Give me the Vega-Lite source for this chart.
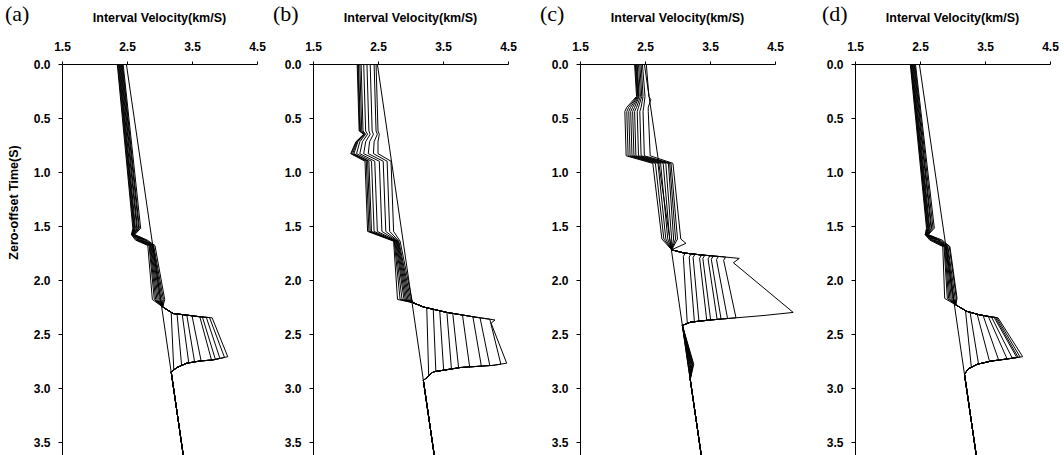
{
"$schema": "https://vega.github.io/schema/vega-lite/v6.json",
"background": "white",
"padding": {"left": 5, "top": 3, "right": 0, "bottom": 0},
"bounds": "flush",
"spacing": 56,
"config": {
  "view": {"stroke": null},
  "axis": {"domainColor": "#000", "tickColor": "#000", "labelColor": "#000", "titleColor": "#000", "grid": false, "labelFont": "Liberation Sans", "titleFont": "Liberation Sans", "labelFontSize": 12, "labelFontWeight": "bold", "titleFontSize": 12.5, "titleFontWeight": "bold", "domainWidth": 1, "tickWidth": 1, "labelFlush": false},
  "title": {"font": "Liberation Serif", "fontSize": 22, "fontWeight": "normal", "color": "#000", "anchor": "start", "frame": "group", "offset": 0}
},
"datasets": {"curves": [
{"p":"a","c":0,"t":0,"v":2.35},{"p":"a","c":0,"t":1.52,"v":2.59},{"p":"a","c":0,"t":1.58,"v":2.57},{"p":"a","c":0,"t":1.63,"v":2.63},{"p":"a","c":0,"t":1.68,"v":2.82},{"p":"a","c":0,"t":2.18,"v":2.89},{"p":"a","c":0,"t":2.25,"v":3.05},{"p":"a","c":0,"t":2.30,"v":3.18},{"p":"a","c":0,"t":2.835,"v":3.22},{"p":"a","c":0,"t":2.85,"v":3.18},{"p":"a","c":0,"t":3.62,"v":3.365},
{"p":"a","c":1,"t":0,"v":2.36},{"p":"a","c":1,"t":1.52,"v":2.60},{"p":"a","c":1,"t":1.58,"v":2.57},{"p":"a","c":1,"t":1.63,"v":2.65},{"p":"a","c":1,"t":1.68,"v":2.84},{"p":"a","c":1,"t":2.18,"v":2.92},{"p":"a","c":1,"t":2.25,"v":3.05},{"p":"a","c":1,"t":2.31,"v":3.21},{"p":"a","c":1,"t":2.315,"v":3.27},{"p":"a","c":1,"t":2.791,"v":3.34},{"p":"a","c":1,"t":2.81,"v":3.27},{"p":"a","c":1,"t":2.85,"v":3.18},{"p":"a","c":1,"t":3.62,"v":3.365},
{"p":"a","c":2,"t":0,"v":2.37},{"p":"a","c":2,"t":1.52,"v":2.61},{"p":"a","c":2,"t":1.58,"v":2.58},{"p":"a","c":2,"t":1.63,"v":2.67},{"p":"a","c":2,"t":1.68,"v":2.85},{"p":"a","c":2,"t":2.18,"v":2.94},{"p":"a","c":2,"t":2.25,"v":3.05},{"p":"a","c":2,"t":2.31,"v":3.21},{"p":"a","c":2,"t":2.32,"v":3.35},{"p":"a","c":2,"t":2.767,"v":3.45},{"p":"a","c":2,"t":2.77,"v":3.42},{"p":"a","c":2,"t":2.81,"v":3.27},{"p":"a","c":2,"t":2.85,"v":3.18},{"p":"a","c":2,"t":3.62,"v":3.365},
{"p":"a","c":3,"t":0,"v":2.38},{"p":"a","c":3,"t":1.52,"v":2.62},{"p":"a","c":3,"t":1.58,"v":2.58},{"p":"a","c":3,"t":1.63,"v":2.69},{"p":"a","c":3,"t":1.68,"v":2.86},{"p":"a","c":3,"t":2.18,"v":2.96},{"p":"a","c":3,"t":2.25,"v":3.05},{"p":"a","c":3,"t":2.31,"v":3.21},{"p":"a","c":3,"t":2.32,"v":3.35},{"p":"a","c":3,"t":2.325,"v":3.42},{"p":"a","c":3,"t":2.758,"v":3.54},{"p":"a","c":3,"t":2.77,"v":3.42},{"p":"a","c":3,"t":2.81,"v":3.27},{"p":"a","c":3,"t":2.85,"v":3.18},{"p":"a","c":3,"t":3.62,"v":3.365},
{"p":"a","c":4,"t":0,"v":2.39},{"p":"a","c":4,"t":1.52,"v":2.63},{"p":"a","c":4,"t":1.58,"v":2.59},{"p":"a","c":4,"t":1.63,"v":2.71},{"p":"a","c":4,"t":1.68,"v":2.87},{"p":"a","c":4,"t":2.18,"v":2.98},{"p":"a","c":4,"t":2.25,"v":3.05},{"p":"a","c":4,"t":2.31,"v":3.21},{"p":"a","c":4,"t":2.32,"v":3.35},{"p":"a","c":4,"t":2.33,"v":3.50},{"p":"a","c":4,"t":2.749,"v":3.64},{"p":"a","c":4,"t":2.75,"v":3.62},{"p":"a","c":4,"t":2.77,"v":3.42},{"p":"a","c":4,"t":2.81,"v":3.27},{"p":"a","c":4,"t":2.85,"v":3.18},{"p":"a","c":4,"t":3.62,"v":3.365},
{"p":"a","c":5,"t":0,"v":2.40},{"p":"a","c":5,"t":1.52,"v":2.65},{"p":"a","c":5,"t":1.58,"v":2.59},{"p":"a","c":5,"t":1.63,"v":2.73},{"p":"a","c":5,"t":1.68,"v":2.88},{"p":"a","c":5,"t":2.18,"v":3.00},{"p":"a","c":5,"t":2.25,"v":3.05},{"p":"a","c":5,"t":2.31,"v":3.21},{"p":"a","c":5,"t":2.32,"v":3.35},{"p":"a","c":5,"t":2.34,"v":3.62},{"p":"a","c":5,"t":2.741,"v":3.80},{"p":"a","c":5,"t":2.75,"v":3.62},{"p":"a","c":5,"t":2.77,"v":3.42},{"p":"a","c":5,"t":2.81,"v":3.27},{"p":"a","c":5,"t":2.85,"v":3.18},{"p":"a","c":5,"t":3.62,"v":3.365},
{"p":"a","c":6,"t":0,"v":2.41},{"p":"a","c":6,"t":1.52,"v":2.66},{"p":"a","c":6,"t":1.58,"v":2.60},{"p":"a","c":6,"t":1.63,"v":2.75},{"p":"a","c":6,"t":1.68,"v":2.89},{"p":"a","c":6,"t":2.18,"v":3.02},{"p":"a","c":6,"t":2.25,"v":3.05},{"p":"a","c":6,"t":2.31,"v":3.21},{"p":"a","c":6,"t":2.32,"v":3.35},{"p":"a","c":6,"t":2.34,"v":3.62},{"p":"a","c":6,"t":2.342,"v":3.66},{"p":"a","c":6,"t":2.735,"v":3.86},{"p":"a","c":6,"t":2.74,"v":3.82},{"p":"a","c":6,"t":2.75,"v":3.62},{"p":"a","c":6,"t":2.77,"v":3.42},{"p":"a","c":6,"t":2.81,"v":3.27},{"p":"a","c":6,"t":2.85,"v":3.18},{"p":"a","c":6,"t":3.62,"v":3.365},
{"p":"a","c":7,"t":0,"v":2.42},{"p":"a","c":7,"t":1.52,"v":2.68},{"p":"a","c":7,"t":1.58,"v":2.60},{"p":"a","c":7,"t":1.63,"v":2.77},{"p":"a","c":7,"t":1.68,"v":2.90},{"p":"a","c":7,"t":2.18,"v":3.04},{"p":"a","c":7,"t":2.25,"v":3.05},{"p":"a","c":7,"t":2.31,"v":3.21},{"p":"a","c":7,"t":2.32,"v":3.35},{"p":"a","c":7,"t":2.34,"v":3.62},{"p":"a","c":7,"t":2.345,"v":3.72},{"p":"a","c":7,"t":2.726,"v":3.93},{"p":"a","c":7,"t":2.74,"v":3.82},{"p":"a","c":7,"t":2.75,"v":3.62},{"p":"a","c":7,"t":2.77,"v":3.42},{"p":"a","c":7,"t":2.81,"v":3.27},{"p":"a","c":7,"t":2.85,"v":3.18},{"p":"a","c":7,"t":3.62,"v":3.365},
{"p":"a","c":8,"t":0,"v":2.43},{"p":"a","c":8,"t":1.52,"v":2.69},{"p":"a","c":8,"t":1.58,"v":2.61},{"p":"a","c":8,"t":1.63,"v":2.79},{"p":"a","c":8,"t":1.68,"v":2.91},{"p":"a","c":8,"t":2.18,"v":3.06},{"p":"a","c":8,"t":2.25,"v":3.05},{"p":"a","c":8,"t":2.31,"v":3.21},{"p":"a","c":8,"t":2.32,"v":3.35},{"p":"a","c":8,"t":2.34,"v":3.62},{"p":"a","c":8,"t":2.348,"v":3.77},{"p":"a","c":8,"t":2.717,"v":4.00},{"p":"a","c":8,"t":2.74,"v":3.82},{"p":"a","c":8,"t":2.75,"v":3.62},{"p":"a","c":8,"t":2.77,"v":3.42},{"p":"a","c":8,"t":2.81,"v":3.27},{"p":"a","c":8,"t":2.85,"v":3.18},{"p":"a","c":8,"t":3.62,"v":3.365},
{"p":"a","c":9,"t":0,"v":2.44},{"p":"a","c":9,"t":1.52,"v":2.71},{"p":"a","c":9,"t":1.58,"v":2.62},{"p":"a","c":9,"t":1.63,"v":2.81},{"p":"a","c":9,"t":1.68,"v":2.93},{"p":"a","c":9,"t":2.18,"v":3.08},{"p":"a","c":9,"t":2.25,"v":3.05},{"p":"a","c":9,"t":2.31,"v":3.21},{"p":"a","c":9,"t":2.32,"v":3.35},{"p":"a","c":9,"t":2.34,"v":3.62},{"p":"a","c":9,"t":2.35,"v":3.81},{"p":"a","c":9,"t":2.71,"v":4.05},{"p":"a","c":9,"t":2.74,"v":3.82},{"p":"a","c":9,"t":2.75,"v":3.62},{"p":"a","c":9,"t":2.77,"v":3.42},{"p":"a","c":9,"t":2.81,"v":3.27},{"p":"a","c":9,"t":2.85,"v":3.18},{"p":"a","c":9,"t":3.62,"v":3.365},
{"p":"a","c":10,"t":0,"v":2.49},{"p":"a","c":10,"t":3.62,"v":3.365},

{"p":"b","c":0,"t":0,"v":2.18},{"p":"b","c":0,"t":0.62,"v":2.21},{"p":"b","c":0,"t":0.65,"v":2.28},{"p":"b","c":0,"t":0.72,"v":2.16},{"p":"b","c":0,"t":0.83,"v":2.08},{"p":"b","c":0,"t":0.90,"v":2.30},{"p":"b","c":0,"t":1.55,"v":2.34},{"p":"b","c":0,"t":1.64,"v":2.74},{"p":"b","c":0,"t":2.18,"v":2.80},{"p":"b","c":0,"t":2.21,"v":3.04},{"p":"b","c":0,"t":2.25,"v":3.20},{"p":"b","c":0,"t":2.257,"v":3.25},{"p":"b","c":0,"t":2.887,"v":3.28},{"p":"b","c":0,"t":2.93,"v":3.198},{"p":"b","c":0,"t":3.62,"v":3.365},
{"p":"b","c":1,"t":0,"v":2.19},{"p":"b","c":1,"t":0.62,"v":2.22},{"p":"b","c":1,"t":0.65,"v":2.28},{"p":"b","c":1,"t":0.72,"v":2.17},{"p":"b","c":1,"t":0.83,"v":2.09},{"p":"b","c":1,"t":0.90,"v":2.32},{"p":"b","c":1,"t":1.55,"v":2.36},{"p":"b","c":1,"t":1.64,"v":2.75},{"p":"b","c":1,"t":2.18,"v":2.84},{"p":"b","c":1,"t":2.21,"v":3.04},{"p":"b","c":1,"t":2.25,"v":3.20},{"p":"b","c":1,"t":2.271,"v":3.35},{"p":"b","c":1,"t":2.846,"v":3.39},{"p":"b","c":1,"t":2.85,"v":3.35},{"p":"b","c":1,"t":2.93,"v":3.198},{"p":"b","c":1,"t":3.62,"v":3.365},
{"p":"b","c":2,"t":0,"v":2.20},{"p":"b","c":2,"t":0.62,"v":2.23},{"p":"b","c":2,"t":0.65,"v":2.29},{"p":"b","c":2,"t":0.72,"v":2.18},{"p":"b","c":2,"t":0.83,"v":2.11},{"p":"b","c":2,"t":0.90,"v":2.34},{"p":"b","c":2,"t":1.55,"v":2.38},{"p":"b","c":2,"t":1.64,"v":2.76},{"p":"b","c":2,"t":2.18,"v":2.87},{"p":"b","c":2,"t":2.21,"v":3.04},{"p":"b","c":2,"t":2.25,"v":3.20},{"p":"b","c":2,"t":2.285,"v":3.45},{"p":"b","c":2,"t":2.835,"v":3.51},{"p":"b","c":2,"t":2.85,"v":3.35},{"p":"b","c":2,"t":2.93,"v":3.198},{"p":"b","c":2,"t":3.62,"v":3.365},
{"p":"b","c":3,"t":0,"v":2.22},{"p":"b","c":3,"t":0.62,"v":2.25},{"p":"b","c":3,"t":0.65,"v":2.30},{"p":"b","c":3,"t":0.72,"v":2.19},{"p":"b","c":3,"t":0.83,"v":2.13},{"p":"b","c":3,"t":0.90,"v":2.36},{"p":"b","c":3,"t":1.55,"v":2.40},{"p":"b","c":3,"t":1.64,"v":2.77},{"p":"b","c":3,"t":2.18,"v":2.90},{"p":"b","c":3,"t":2.21,"v":3.04},{"p":"b","c":3,"t":2.25,"v":3.20},{"p":"b","c":3,"t":2.30,"v":3.56},{"p":"b","c":3,"t":2.823,"v":3.63},{"p":"b","c":3,"t":2.85,"v":3.35},{"p":"b","c":3,"t":2.93,"v":3.198},{"p":"b","c":3,"t":3.62,"v":3.365},
{"p":"b","c":4,"t":0,"v":2.24},{"p":"b","c":4,"t":0.62,"v":2.27},{"p":"b","c":4,"t":0.65,"v":2.31},{"p":"b","c":4,"t":0.72,"v":2.22},{"p":"b","c":4,"t":0.83,"v":2.17},{"p":"b","c":4,"t":0.90,"v":2.40},{"p":"b","c":4,"t":1.55,"v":2.44},{"p":"b","c":4,"t":1.64,"v":2.78},{"p":"b","c":4,"t":2.18,"v":2.92},{"p":"b","c":4,"t":2.21,"v":3.04},{"p":"b","c":4,"t":2.25,"v":3.20},{"p":"b","c":4,"t":2.30,"v":3.56},{"p":"b","c":4,"t":2.309,"v":3.65},{"p":"b","c":4,"t":2.813,"v":3.74},{"p":"b","c":4,"t":2.85,"v":3.35},{"p":"b","c":4,"t":2.93,"v":3.198},{"p":"b","c":4,"t":3.62,"v":3.365},
{"p":"b","c":5,"t":0,"v":2.28},{"p":"b","c":5,"t":0.62,"v":2.31},{"p":"b","c":5,"t":0.65,"v":2.34},{"p":"b","c":5,"t":0.72,"v":2.26},{"p":"b","c":5,"t":0.83,"v":2.22},{"p":"b","c":5,"t":0.90,"v":2.45},{"p":"b","c":5,"t":1.55,"v":2.49},{"p":"b","c":5,"t":1.64,"v":2.79},{"p":"b","c":5,"t":2.18,"v":2.94},{"p":"b","c":5,"t":2.21,"v":3.04},{"p":"b","c":5,"t":2.25,"v":3.20},{"p":"b","c":5,"t":2.30,"v":3.56},{"p":"b","c":5,"t":2.324,"v":3.80},{"p":"b","c":5,"t":2.804,"v":3.91},{"p":"b","c":5,"t":2.81,"v":3.77},{"p":"b","c":5,"t":2.85,"v":3.35},{"p":"b","c":5,"t":2.93,"v":3.198},{"p":"b","c":5,"t":3.62,"v":3.365},
{"p":"b","c":6,"t":0,"v":2.33},{"p":"b","c":6,"t":0.62,"v":2.36},{"p":"b","c":6,"t":0.65,"v":2.38},{"p":"b","c":6,"t":0.72,"v":2.31},{"p":"b","c":6,"t":0.83,"v":2.28},{"p":"b","c":6,"t":0.90,"v":2.52},{"p":"b","c":6,"t":1.55,"v":2.56},{"p":"b","c":6,"t":1.64,"v":2.80},{"p":"b","c":6,"t":2.18,"v":2.96},{"p":"b","c":6,"t":2.21,"v":3.04},{"p":"b","c":6,"t":2.25,"v":3.20},{"p":"b","c":6,"t":2.30,"v":3.56},{"p":"b","c":6,"t":2.34,"v":3.96},{"p":"b","c":6,"t":2.797,"v":4.09},{"p":"b","c":6,"t":2.81,"v":3.77},{"p":"b","c":6,"t":2.85,"v":3.35},{"p":"b","c":6,"t":2.93,"v":3.198},{"p":"b","c":6,"t":3.62,"v":3.365},
{"p":"b","c":7,"t":0,"v":2.38},{"p":"b","c":7,"t":0.62,"v":2.41},{"p":"b","c":7,"t":0.65,"v":2.43},{"p":"b","c":7,"t":0.72,"v":2.37},{"p":"b","c":7,"t":0.83,"v":2.35},{"p":"b","c":7,"t":0.90,"v":2.58},{"p":"b","c":7,"t":1.55,"v":2.62},{"p":"b","c":7,"t":1.64,"v":2.81},{"p":"b","c":7,"t":2.18,"v":2.98},{"p":"b","c":7,"t":2.21,"v":3.04},{"p":"b","c":7,"t":2.25,"v":3.20},{"p":"b","c":7,"t":2.30,"v":3.56},{"p":"b","c":7,"t":2.34,"v":3.96},{"p":"b","c":7,"t":2.350,"v":4.07},{"p":"b","c":7,"t":2.792,"v":4.22},{"p":"b","c":7,"t":2.81,"v":3.77},{"p":"b","c":7,"t":2.85,"v":3.35},{"p":"b","c":7,"t":2.93,"v":3.198},{"p":"b","c":7,"t":3.62,"v":3.365},
{"p":"b","c":8,"t":0,"v":2.44},{"p":"b","c":8,"t":0.62,"v":2.47},{"p":"b","c":8,"t":0.65,"v":2.49},{"p":"b","c":8,"t":0.72,"v":2.44},{"p":"b","c":8,"t":0.83,"v":2.43},{"p":"b","c":8,"t":0.90,"v":2.64},{"p":"b","c":8,"t":1.55,"v":2.68},{"p":"b","c":8,"t":1.64,"v":2.82},{"p":"b","c":8,"t":2.18,"v":3.00},{"p":"b","c":8,"t":2.21,"v":3.04},{"p":"b","c":8,"t":2.25,"v":3.20},{"p":"b","c":8,"t":2.30,"v":3.56},{"p":"b","c":8,"t":2.34,"v":3.96},{"p":"b","c":8,"t":2.363,"v":4.22},{"p":"b","c":8,"t":2.779,"v":4.39},{"p":"b","c":8,"t":2.79,"v":4.27},{"p":"b","c":8,"t":2.81,"v":3.77},{"p":"b","c":8,"t":2.85,"v":3.35},{"p":"b","c":8,"t":2.93,"v":3.198},{"p":"b","c":8,"t":3.62,"v":3.365},
{"p":"b","c":9,"t":0,"v":2.47},{"p":"b","c":9,"t":0.62,"v":2.50},{"p":"b","c":9,"t":0.65,"v":2.52},{"p":"b","c":9,"t":0.72,"v":2.50},{"p":"b","c":9,"t":0.83,"v":2.50},{"p":"b","c":9,"t":0.90,"v":2.70},{"p":"b","c":9,"t":1.55,"v":2.74},{"p":"b","c":9,"t":1.64,"v":2.84},{"p":"b","c":9,"t":2.18,"v":3.02},{"p":"b","c":9,"t":2.21,"v":3.04},{"p":"b","c":9,"t":2.25,"v":3.20},{"p":"b","c":9,"t":2.30,"v":3.56},{"p":"b","c":9,"t":2.34,"v":3.96},{"p":"b","c":9,"t":2.37,"v":4.30},{"p":"b","c":9,"t":2.40,"v":4.24},{"p":"b","c":9,"t":2.77,"v":4.48},{"p":"b","c":9,"t":2.79,"v":4.27},{"p":"b","c":9,"t":2.81,"v":3.77},{"p":"b","c":9,"t":2.85,"v":3.35},{"p":"b","c":9,"t":2.93,"v":3.198},{"p":"b","c":9,"t":3.62,"v":3.365},
{"p":"b","c":10,"t":0,"v":2.49},{"p":"b","c":10,"t":3.62,"v":3.365},

{"p":"c","c":0,"t":0,"v":2.34},{"p":"c","c":0,"t":0.30,"v":2.37},{"p":"c","c":0,"t":0.40,"v":2.22},{"p":"c","c":0,"t":0.44,"v":2.19},{"p":"c","c":0,"t":0.85,"v":2.21},{"p":"c","c":0,"t":0.92,"v":2.62},{"p":"c","c":0,"t":1.62,"v":2.76},{"p":"c","c":0,"t":1.72,"v":2.91},{"p":"c","c":0,"t":1.75,"v":3.10},{"p":"c","c":0,"t":1.751,"v":3.12},{"p":"c","c":0,"t":1.781,"v":3.09},{"p":"c","c":0,"t":2.402,"v":3.15},{"p":"c","c":0,"t":2.42,"v":3.075},{"p":"c","c":0,"t":2.78,"v":3.16},{"p":"c","c":0,"t":2.92,"v":3.196},{"p":"c","c":0,"t":3.62,"v":3.365},
{"p":"c","c":1,"t":0,"v":2.35},{"p":"c","c":1,"t":0.30,"v":2.38},{"p":"c","c":1,"t":0.40,"v":2.25},{"p":"c","c":1,"t":0.44,"v":2.22},{"p":"c","c":1,"t":0.85,"v":2.24},{"p":"c","c":1,"t":0.92,"v":2.66},{"p":"c","c":1,"t":1.62,"v":2.79},{"p":"c","c":1,"t":1.72,"v":2.91},{"p":"c","c":1,"t":1.75,"v":3.10},{"p":"c","c":1,"t":1.757,"v":3.21},{"p":"c","c":1,"t":1.787,"v":3.18},{"p":"c","c":1,"t":2.386,"v":3.26},{"p":"c","c":1,"t":2.39,"v":3.20},{"p":"c","c":1,"t":2.42,"v":3.075},{"p":"c","c":1,"t":2.78,"v":3.17},{"p":"c","c":1,"t":2.92,"v":3.196},{"p":"c","c":1,"t":3.62,"v":3.365},
{"p":"c","c":2,"t":0,"v":2.36},{"p":"c","c":2,"t":0.30,"v":2.39},{"p":"c","c":2,"t":0.40,"v":2.28},{"p":"c","c":2,"t":0.44,"v":2.25},{"p":"c","c":2,"t":0.85,"v":2.27},{"p":"c","c":2,"t":0.92,"v":2.70},{"p":"c","c":2,"t":1.62,"v":2.82},{"p":"c","c":2,"t":1.72,"v":2.91},{"p":"c","c":2,"t":1.75,"v":3.10},{"p":"c","c":2,"t":1.761,"v":3.27},{"p":"c","c":2,"t":1.791,"v":3.24},{"p":"c","c":2,"t":2.381,"v":3.33},{"p":"c","c":2,"t":2.39,"v":3.20},{"p":"c","c":2,"t":2.42,"v":3.075},{"p":"c","c":2,"t":2.78,"v":3.18},{"p":"c","c":2,"t":2.92,"v":3.196},{"p":"c","c":2,"t":3.62,"v":3.365},
{"p":"c","c":3,"t":0,"v":2.37},{"p":"c","c":3,"t":0.30,"v":2.40},{"p":"c","c":3,"t":0.40,"v":2.31},{"p":"c","c":3,"t":0.44,"v":2.28},{"p":"c","c":3,"t":0.85,"v":2.30},{"p":"c","c":3,"t":0.92,"v":2.74},{"p":"c","c":3,"t":1.62,"v":2.85},{"p":"c","c":3,"t":1.72,"v":2.91},{"p":"c","c":3,"t":1.75,"v":3.10},{"p":"c","c":3,"t":1.768,"v":3.37},{"p":"c","c":3,"t":1.798,"v":3.34},{"p":"c","c":3,"t":2.373,"v":3.45},{"p":"c","c":3,"t":2.39,"v":3.20},{"p":"c","c":3,"t":2.42,"v":3.075},{"p":"c","c":3,"t":2.78,"v":3.19},{"p":"c","c":3,"t":2.92,"v":3.196},{"p":"c","c":3,"t":3.62,"v":3.365},
{"p":"c","c":4,"t":0,"v":2.38},{"p":"c","c":4,"t":0.30,"v":2.41},{"p":"c","c":4,"t":0.40,"v":2.34},{"p":"c","c":4,"t":0.44,"v":2.31},{"p":"c","c":4,"t":0.85,"v":2.33},{"p":"c","c":4,"t":0.92,"v":2.78},{"p":"c","c":4,"t":1.62,"v":2.88},{"p":"c","c":4,"t":1.72,"v":2.91},{"p":"c","c":4,"t":1.75,"v":3.10},{"p":"c","c":4,"t":1.77,"v":3.40},{"p":"c","c":4,"t":1.771,"v":3.42},{"p":"c","c":4,"t":1.801,"v":3.39},{"p":"c","c":4,"t":2.3695,"v":3.51},{"p":"c","c":4,"t":2.37,"v":3.50},{"p":"c","c":4,"t":2.39,"v":3.20},{"p":"c","c":4,"t":2.42,"v":3.075},{"p":"c","c":4,"t":2.78,"v":3.20},{"p":"c","c":4,"t":2.92,"v":3.196},{"p":"c","c":4,"t":3.62,"v":3.365},
{"p":"c","c":5,"t":0,"v":2.40},{"p":"c","c":5,"t":0.30,"v":2.43},{"p":"c","c":5,"t":0.40,"v":2.37},{"p":"c","c":5,"t":0.44,"v":2.34},{"p":"c","c":5,"t":0.85,"v":2.36},{"p":"c","c":5,"t":0.92,"v":2.82},{"p":"c","c":5,"t":1.62,"v":2.91},{"p":"c","c":5,"t":1.72,"v":2.91},{"p":"c","c":5,"t":1.75,"v":3.10},{"p":"c","c":5,"t":1.77,"v":3.40},{"p":"c","c":5,"t":1.775,"v":3.50},{"p":"c","c":5,"t":1.805,"v":3.47},{"p":"c","c":5,"t":2.3645,"v":3.61},{"p":"c","c":5,"t":2.37,"v":3.50},{"p":"c","c":5,"t":2.39,"v":3.20},{"p":"c","c":5,"t":2.42,"v":3.075},{"p":"c","c":5,"t":2.78,"v":3.21},{"p":"c","c":5,"t":2.92,"v":3.196},{"p":"c","c":5,"t":3.62,"v":3.365},
{"p":"c","c":6,"t":0,"v":2.42},{"p":"c","c":6,"t":0.30,"v":2.45},{"p":"c","c":6,"t":0.40,"v":2.40},{"p":"c","c":6,"t":0.44,"v":2.38},{"p":"c","c":6,"t":0.85,"v":2.40},{"p":"c","c":6,"t":0.92,"v":2.86},{"p":"c","c":6,"t":1.62,"v":2.94},{"p":"c","c":6,"t":1.72,"v":2.91},{"p":"c","c":6,"t":1.75,"v":3.10},{"p":"c","c":6,"t":1.77,"v":3.40},{"p":"c","c":6,"t":1.7775,"v":3.55},{"p":"c","c":6,"t":1.8075,"v":3.52},{"p":"c","c":6,"t":2.3615,"v":3.67},{"p":"c","c":6,"t":2.37,"v":3.50},{"p":"c","c":6,"t":2.39,"v":3.20},{"p":"c","c":6,"t":2.42,"v":3.075},{"p":"c","c":6,"t":2.78,"v":3.22},{"p":"c","c":6,"t":2.92,"v":3.196},{"p":"c","c":6,"t":3.62,"v":3.365},
{"p":"c","c":7,"t":0,"v":2.44},{"p":"c","c":7,"t":0.30,"v":2.47},{"p":"c","c":7,"t":0.40,"v":2.44},{"p":"c","c":7,"t":0.44,"v":2.42},{"p":"c","c":7,"t":0.85,"v":2.44},{"p":"c","c":7,"t":0.92,"v":2.88},{"p":"c","c":7,"t":1.62,"v":2.97},{"p":"c","c":7,"t":1.72,"v":2.91},{"p":"c","c":7,"t":1.75,"v":3.10},{"p":"c","c":7,"t":1.77,"v":3.40},{"p":"c","c":7,"t":1.7815,"v":3.63},{"p":"c","c":7,"t":1.8115,"v":3.60},{"p":"c","c":7,"t":2.3565,"v":3.77},{"p":"c","c":7,"t":2.37,"v":3.50},{"p":"c","c":7,"t":2.39,"v":3.20},{"p":"c","c":7,"t":2.42,"v":3.075},{"p":"c","c":7,"t":2.78,"v":3.23},{"p":"c","c":7,"t":2.92,"v":3.196},{"p":"c","c":7,"t":3.62,"v":3.365},
{"p":"c","c":8,"t":0,"v":2.46},{"p":"c","c":8,"t":0.30,"v":2.50},{"p":"c","c":8,"t":0.40,"v":2.48},{"p":"c","c":8,"t":0.44,"v":2.47},{"p":"c","c":8,"t":0.85,"v":2.49},{"p":"c","c":8,"t":0.92,"v":2.90},{"p":"c","c":8,"t":1.62,"v":3.00},{"p":"c","c":8,"t":1.72,"v":2.91},{"p":"c","c":8,"t":1.75,"v":3.10},{"p":"c","c":8,"t":1.77,"v":3.40},{"p":"c","c":8,"t":1.785,"v":3.70},{"p":"c","c":8,"t":1.7874,"v":3.74},{"p":"c","c":8,"t":1.8174,"v":3.71},{"p":"c","c":8,"t":2.35,"v":3.90},{"p":"c","c":8,"t":2.37,"v":3.50},{"p":"c","c":8,"t":2.39,"v":3.20},{"p":"c","c":8,"t":2.42,"v":3.075},{"p":"c","c":8,"t":2.78,"v":3.24},{"p":"c","c":8,"t":2.92,"v":3.196},{"p":"c","c":8,"t":3.62,"v":3.365},
{"p":"c","c":9,"t":0,"v":2.52},{"p":"c","c":9,"t":0.30,"v":2.56},{"p":"c","c":9,"t":0.33,"v":2.59},{"p":"c","c":9,"t":0.40,"v":2.55},{"p":"c","c":9,"t":0.44,"v":2.55},{"p":"c","c":9,"t":0.85,"v":2.58},{"p":"c","c":9,"t":0.92,"v":2.93},{"p":"c","c":9,"t":1.62,"v":3.05},{"p":"c","c":9,"t":1.66,"v":3.13},{"p":"c","c":9,"t":1.72,"v":2.91},{"p":"c","c":9,"t":1.75,"v":3.10},{"p":"c","c":9,"t":1.77,"v":3.40},{"p":"c","c":9,"t":1.785,"v":3.70},{"p":"c","c":9,"t":1.80,"v":3.95},{"p":"c","c":9,"t":1.84,"v":3.86},{"p":"c","c":9,"t":2.30,"v":4.78},{"p":"c","c":9,"t":2.33,"v":4.30},{"p":"c","c":9,"t":2.35,"v":3.90},{"p":"c","c":9,"t":2.37,"v":3.50},{"p":"c","c":9,"t":2.39,"v":3.20},{"p":"c","c":9,"t":2.42,"v":3.075},{"p":"c","c":9,"t":2.78,"v":3.25},{"p":"c","c":9,"t":2.92,"v":3.196},{"p":"c","c":9,"t":3.62,"v":3.365},
{"p":"c","c":10,"t":0,"v":2.49},{"p":"c","c":10,"t":3.62,"v":3.365},

{"p":"d","c":0,"t":0,"v":2.35},{"p":"d","c":0,"t":1.52,"v":2.60},{"p":"d","c":0,"t":1.58,"v":2.58},{"p":"d","c":0,"t":1.63,"v":2.65},{"p":"d","c":0,"t":1.69,"v":2.85},{"p":"d","c":0,"t":2.17,"v":2.88},{"p":"d","c":0,"t":2.23,"v":3.05},{"p":"d","c":0,"t":2.283,"v":3.20},{"p":"d","c":0,"t":2.808,"v":3.29},{"p":"d","c":0,"t":2.82,"v":3.25},{"p":"d","c":0,"t":2.87,"v":3.184},{"p":"d","c":0,"t":3.62,"v":3.365},
{"p":"d","c":1,"t":0,"v":2.36},{"p":"d","c":1,"t":1.52,"v":2.61},{"p":"d","c":1,"t":1.58,"v":2.58},{"p":"d","c":1,"t":1.63,"v":2.67},{"p":"d","c":1,"t":1.69,"v":2.87},{"p":"d","c":1,"t":2.17,"v":2.92},{"p":"d","c":1,"t":2.23,"v":3.05},{"p":"d","c":1,"t":2.29,"v":3.22},{"p":"d","c":1,"t":2.298,"v":3.27},{"p":"d","c":1,"t":2.777,"v":3.40},{"p":"d","c":1,"t":2.78,"v":3.38},{"p":"d","c":1,"t":2.82,"v":3.25},{"p":"d","c":1,"t":2.87,"v":3.184},{"p":"d","c":1,"t":3.62,"v":3.365},
{"p":"d","c":2,"t":0,"v":2.36},{"p":"d","c":2,"t":1.52,"v":2.62},{"p":"d","c":2,"t":1.58,"v":2.59},{"p":"d","c":2,"t":1.63,"v":2.69},{"p":"d","c":2,"t":1.69,"v":2.88},{"p":"d","c":2,"t":2.17,"v":2.94},{"p":"d","c":2,"t":2.23,"v":3.05},{"p":"d","c":2,"t":2.29,"v":3.22},{"p":"d","c":2,"t":2.317,"v":3.38},{"p":"d","c":2,"t":2.754,"v":3.57},{"p":"d","c":2,"t":2.78,"v":3.38},{"p":"d","c":2,"t":2.82,"v":3.25},{"p":"d","c":2,"t":2.87,"v":3.184},{"p":"d","c":2,"t":3.62,"v":3.365},
{"p":"d","c":3,"t":0,"v":2.37},{"p":"d","c":3,"t":1.52,"v":2.63},{"p":"d","c":3,"t":1.58,"v":2.59},{"p":"d","c":3,"t":1.63,"v":2.71},{"p":"d","c":3,"t":1.69,"v":2.89},{"p":"d","c":3,"t":2.17,"v":2.96},{"p":"d","c":3,"t":2.23,"v":3.05},{"p":"d","c":3,"t":2.29,"v":3.22},{"p":"d","c":3,"t":2.32,"v":3.40},{"p":"d","c":3,"t":2.328,"v":3.47},{"p":"d","c":3,"t":2.741,"v":3.71},{"p":"d","c":3,"t":2.75,"v":3.60},{"p":"d","c":3,"t":2.78,"v":3.38},{"p":"d","c":3,"t":2.82,"v":3.25},{"p":"d","c":3,"t":2.87,"v":3.184},{"p":"d","c":3,"t":3.62,"v":3.365},
{"p":"d","c":4,"t":0,"v":2.38},{"p":"d","c":4,"t":1.52,"v":2.64},{"p":"d","c":4,"t":1.58,"v":2.60},{"p":"d","c":4,"t":1.63,"v":2.73},{"p":"d","c":4,"t":1.69,"v":2.90},{"p":"d","c":4,"t":2.17,"v":2.98},{"p":"d","c":4,"t":2.23,"v":3.05},{"p":"d","c":4,"t":2.29,"v":3.22},{"p":"d","c":4,"t":2.32,"v":3.40},{"p":"d","c":4,"t":2.337,"v":3.55},{"p":"d","c":4,"t":2.731,"v":3.84},{"p":"d","c":4,"t":2.75,"v":3.60},{"p":"d","c":4,"t":2.78,"v":3.38},{"p":"d","c":4,"t":2.82,"v":3.25},{"p":"d","c":4,"t":2.87,"v":3.184},{"p":"d","c":4,"t":3.62,"v":3.365},
{"p":"d","c":5,"t":0,"v":2.39},{"p":"d","c":5,"t":1.52,"v":2.65},{"p":"d","c":5,"t":1.58,"v":2.60},{"p":"d","c":5,"t":1.63,"v":2.75},{"p":"d","c":5,"t":1.69,"v":2.91},{"p":"d","c":5,"t":2.17,"v":3.00},{"p":"d","c":5,"t":2.23,"v":3.05},{"p":"d","c":5,"t":2.29,"v":3.22},{"p":"d","c":5,"t":2.32,"v":3.40},{"p":"d","c":5,"t":2.34,"v":3.58},{"p":"d","c":5,"t":2.342,"v":3.60},{"p":"d","c":5,"t":2.724,"v":3.92},{"p":"d","c":5,"t":2.73,"v":3.85},{"p":"d","c":5,"t":2.75,"v":3.60},{"p":"d","c":5,"t":2.78,"v":3.38},{"p":"d","c":5,"t":2.82,"v":3.25},{"p":"d","c":5,"t":2.87,"v":3.184},{"p":"d","c":5,"t":3.62,"v":3.365},
{"p":"d","c":6,"t":0,"v":2.40},{"p":"d","c":6,"t":1.52,"v":2.67},{"p":"d","c":6,"t":1.58,"v":2.61},{"p":"d","c":6,"t":1.63,"v":2.77},{"p":"d","c":6,"t":1.69,"v":2.92},{"p":"d","c":6,"t":2.17,"v":3.02},{"p":"d","c":6,"t":2.23,"v":3.05},{"p":"d","c":6,"t":2.29,"v":3.22},{"p":"d","c":6,"t":2.32,"v":3.40},{"p":"d","c":6,"t":2.34,"v":3.58},{"p":"d","c":6,"t":2.345,"v":3.64},{"p":"d","c":6,"t":2.718,"v":3.99},{"p":"d","c":6,"t":2.73,"v":3.85},{"p":"d","c":6,"t":2.75,"v":3.60},{"p":"d","c":6,"t":2.78,"v":3.38},{"p":"d","c":6,"t":2.82,"v":3.25},{"p":"d","c":6,"t":2.87,"v":3.184},{"p":"d","c":6,"t":3.62,"v":3.365},
{"p":"d","c":7,"t":0,"v":2.41},{"p":"d","c":7,"t":1.52,"v":2.68},{"p":"d","c":7,"t":1.58,"v":2.61},{"p":"d","c":7,"t":1.63,"v":2.79},{"p":"d","c":7,"t":1.69,"v":2.93},{"p":"d","c":7,"t":2.17,"v":3.04},{"p":"d","c":7,"t":2.23,"v":3.05},{"p":"d","c":7,"t":2.29,"v":3.22},{"p":"d","c":7,"t":2.32,"v":3.40},{"p":"d","c":7,"t":2.34,"v":3.58},{"p":"d","c":7,"t":2.347,"v":3.66},{"p":"d","c":7,"t":2.716,"v":4.01},{"p":"d","c":7,"t":2.73,"v":3.85},{"p":"d","c":7,"t":2.75,"v":3.60},{"p":"d","c":7,"t":2.78,"v":3.38},{"p":"d","c":7,"t":2.82,"v":3.25},{"p":"d","c":7,"t":2.87,"v":3.184},{"p":"d","c":7,"t":3.62,"v":3.365},
{"p":"d","c":8,"t":0,"v":2.42},{"p":"d","c":8,"t":1.52,"v":2.70},{"p":"d","c":8,"t":1.58,"v":2.62},{"p":"d","c":8,"t":1.63,"v":2.81},{"p":"d","c":8,"t":1.69,"v":2.95},{"p":"d","c":8,"t":2.17,"v":3.06},{"p":"d","c":8,"t":2.23,"v":3.05},{"p":"d","c":8,"t":2.29,"v":3.22},{"p":"d","c":8,"t":2.32,"v":3.40},{"p":"d","c":8,"t":2.34,"v":3.58},{"p":"d","c":8,"t":2.348,"v":3.68},{"p":"d","c":8,"t":2.713,"v":4.04},{"p":"d","c":8,"t":2.73,"v":3.85},{"p":"d","c":8,"t":2.75,"v":3.60},{"p":"d","c":8,"t":2.78,"v":3.38},{"p":"d","c":8,"t":2.82,"v":3.25},{"p":"d","c":8,"t":2.87,"v":3.184},{"p":"d","c":8,"t":3.62,"v":3.365},
{"p":"d","c":9,"t":0,"v":2.43},{"p":"d","c":9,"t":1.52,"v":2.72},{"p":"d","c":9,"t":1.58,"v":2.63},{"p":"d","c":9,"t":1.63,"v":2.84},{"p":"d","c":9,"t":1.69,"v":2.96},{"p":"d","c":9,"t":2.17,"v":3.07},{"p":"d","c":9,"t":2.23,"v":3.05},{"p":"d","c":9,"t":2.29,"v":3.22},{"p":"d","c":9,"t":2.32,"v":3.40},{"p":"d","c":9,"t":2.34,"v":3.58},{"p":"d","c":9,"t":2.35,"v":3.70},{"p":"d","c":9,"t":2.71,"v":4.08},{"p":"d","c":9,"t":2.73,"v":3.85},{"p":"d","c":9,"t":2.75,"v":3.60},{"p":"d","c":9,"t":2.78,"v":3.38},{"p":"d","c":9,"t":2.82,"v":3.25},{"p":"d","c":9,"t":2.87,"v":3.184},{"p":"d","c":9,"t":3.62,"v":3.365},
{"p":"d","c":10,"t":0,"v":2.49},{"p":"d","c":10,"t":3.62,"v":3.365}
]},
"hconcat": [
{
  "width": 195, "height": 391,
  "title": {"text": "(a)", "dx": -57, "dy": 19},
  "data": {"name": "curves"},
  "transform": [{"filter": "datum.p == 'a'"}],
  "mark": {"type": "line", "color": "#000", "strokeWidth": 1, "clip": false},
  "encoding": {
    "x": {"field": "v", "type": "quantitative", "scale": {"domain": [1.5, 4.5], "range": [0, 195], "nice": false, "zero": false}, "axis": {"orient": "top", "values": [1.5, 2.5, 3.5, 4.5], "format": ".1f", "tickSize": 3, "labelPadding": 8, "title": "Interval Velocity(km/S)", "titlePadding": 16, "titleX": 97}},
    "y": {"field": "t", "type": "quantitative", "scale": {"domain": [0, 3.62], "reverse": true, "nice": false, "zero": false}, "axis": {"values": [0, 0.5, 1, 1.5, 2, 2.5, 3, 3.5], "format": ".1f", "tickSize": 4, "labelPadding": 8, "title": "Zero-offset Time(S)", "titlePadding": 13, "titleY": 138}},
    "detail": {"field": "c", "type": "nominal"},
    "order": {"field": "t", "type": "quantitative"}
  }
},
{
  "width": 211, "height": 391,
  "title": {"text": "(b)", "dx": -40, "dy": 19},
  "data": {"name": "curves"},
  "transform": [{"filter": "datum.p == 'b'"}],
  "mark": {"type": "line", "color": "#000", "strokeWidth": 1, "clip": false},
  "encoding": {
    "x": {"field": "v", "type": "quantitative", "scale": {"domain": [1.5, 4.5], "range": [0, 195], "nice": false, "zero": false}, "axis": {"orient": "top", "values": [1.5, 2.5, 3.5, 4.5], "format": ".1f", "tickSize": 3, "labelPadding": 8, "title": "Interval Velocity(km/S)", "titlePadding": 16, "titleX": 97}},
    "y": {"field": "t", "type": "quantitative", "scale": {"domain": [0, 3.62], "reverse": true, "nice": false, "zero": false}, "axis": {"values": [0, 0.5, 1, 1.5, 2, 2.5, 3, 3.5], "format": ".1f", "tickSize": 4, "labelPadding": 8, "title": null}},
    "detail": {"field": "c", "type": "nominal"},
    "order": {"field": "t", "type": "quantitative"}
  }
},
{
  "width": 219, "height": 391,
  "title": {"text": "(c)", "dx": -40, "dy": 19},
  "data": {"name": "curves"},
  "transform": [{"filter": "datum.p == 'c'"}],
  "mark": {"type": "line", "color": "#000", "strokeWidth": 1, "clip": false},
  "encoding": {
    "x": {"field": "v", "type": "quantitative", "scale": {"domain": [1.5, 4.5], "range": [0, 195], "nice": false, "zero": false}, "axis": {"orient": "top", "values": [1.5, 2.5, 3.5, 4.5], "format": ".1f", "tickSize": 3, "labelPadding": 8, "title": "Interval Velocity(km/S)", "titlePadding": 16, "titleX": 97}},
    "y": {"field": "t", "type": "quantitative", "scale": {"domain": [0, 3.62], "reverse": true, "nice": false, "zero": false}, "axis": {"values": [0, 0.5, 1, 1.5, 2, 2.5, 3, 3.5], "format": ".1f", "tickSize": 4, "labelPadding": 8, "title": null}},
    "detail": {"field": "c", "type": "nominal"},
    "order": {"field": "t", "type": "quantitative"}
  }
},
{
  "width": 195, "height": 391,
  "title": {"text": "(d)", "dx": -33, "dy": 19},
  "data": {"name": "curves"},
  "transform": [{"filter": "datum.p == 'd'"}],
  "mark": {"type": "line", "color": "#000", "strokeWidth": 1, "clip": false},
  "encoding": {
    "x": {"field": "v", "type": "quantitative", "scale": {"domain": [1.5, 4.5], "range": [0, 195], "nice": false, "zero": false}, "axis": {"orient": "top", "values": [1.5, 2.5, 3.5, 4.5], "format": ".1f", "tickSize": 3, "labelPadding": 8, "title": "Interval Velocity(km/S)", "titlePadding": 16, "titleX": 97}},
    "y": {"field": "t", "type": "quantitative", "scale": {"domain": [0, 3.62], "reverse": true, "nice": false, "zero": false}, "axis": {"values": [0, 0.5, 1, 1.5, 2, 2.5, 3, 3.5], "format": ".1f", "tickSize": 4, "labelPadding": 8, "title": null}},
    "detail": {"field": "c", "type": "nominal"},
    "order": {"field": "t", "type": "quantitative"}
  }
}
]
}
